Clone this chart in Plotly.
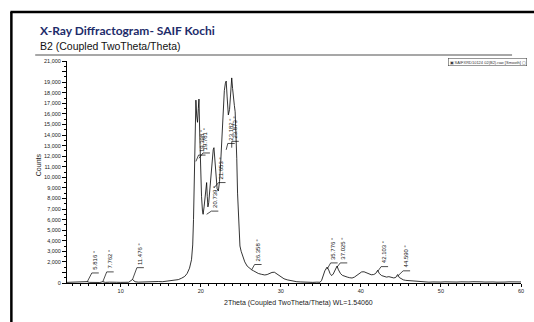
import plotly.graph_objects as go

# Smoothed diffractogram of sample B2 (2theta in degrees, intensity in counts)
two_theta = [
    3.3, 4.0, 4.5, 5.0, 5.5, 5.816, 6.1, 6.6, 7.0, 7.4, 7.762, 8.1, 8.6, 9.0, 9.5,
    10.0, 10.5, 11.0, 11.476, 11.8, 12.2, 12.7, 13.2, 13.7, 14.2, 14.7, 15.2, 15.7,
    16.2, 16.7, 17.2, 17.6, 18.0, 18.3, 18.6, 18.85, 19.0, 19.1, 19.2, 19.3, 19.398,
    19.5, 19.6, 19.7, 19.781, 19.88, 19.98, 20.1, 20.22, 20.3, 20.42, 20.55, 20.65,
    20.739, 20.82, 20.9, 21.0, 21.15, 21.3, 21.45, 21.56, 21.653, 21.75, 21.85, 21.95,
    22.05, 22.2, 22.35, 22.5, 22.65, 22.8, 22.95, 23.08, 23.182, 23.3, 23.45, 23.6,
    23.75, 23.873, 23.98, 24.1, 24.2, 24.3, 24.4, 24.5, 24.6, 24.7, 24.8, 24.9, 25.05,
    25.25, 25.5, 25.8, 26.0, 26.2, 26.358, 26.6, 26.9, 27.2, 27.6, 28.0, 28.3, 28.6,
    28.9, 29.2, 29.5, 29.8, 30.1, 30.4, 30.8, 31.2, 31.6, 32.0, 32.5, 33.0, 33.5, 34.0,
    34.5, 34.9, 35.1, 35.3, 35.5, 35.776, 35.95, 36.15, 36.35, 36.55, 36.8, 37.025,
    37.2, 37.45, 37.7, 38.0, 38.3, 38.6, 38.9, 39.2, 39.5, 39.8, 40.1, 40.4, 40.7, 41.0,
    41.3, 41.6, 41.85, 42.103, 42.3, 42.6, 42.9, 43.2, 43.5, 43.8, 44.1, 44.35, 44.59,
    44.8, 45.0, 45.3, 45.6, 46.0, 46.4, 46.8, 47.2, 47.6, 48.0, 48.5, 49.0, 49.5, 50.0,
    50.5, 51.0, 51.5, 52.0, 52.5, 53.0, 53.5, 54.0, 54.5, 55.0, 55.5, 56.0, 56.5, 57.0,
    57.5, 58.0, 58.5, 59.0, 59.5, 60.0,
]
counts = [
    60, 80, 50, 70, 60, 130, 60, 40, 70, 50, 120, 60, 80, 50, 70,
    60, 90, 70, 330, 120, 80, 100, 70, 110, 90, 140, 120, 170,
    190, 240, 320, 450, 620, 900, 1400, 2200, 3600, 6000, 9500, 14000, 17300,
    15800, 15200, 16500, 17400, 14000, 10500, 8200, 6800, 6500, 7200, 8300, 9200,
    9500, 8200, 7200, 7600, 9000, 10800, 12100, 12600, 12800, 11800, 10300, 9300,
    8900, 8700, 9600, 11500, 14000, 16500, 18200, 18900, 19100, 17600, 15900, 16400,
    18500, 19400, 18400, 17200, 16800, 16200, 14600, 11800, 8500, 6100, 4400, 3500, 3000,
    2500, 2000, 1600, 1450, 1300, 1250, 1150, 1000, 900, 820, 760, 800, 900,
    1000, 1020, 880, 700, 520, 400, 300, 220, 170, 120, 100, 70, 90, 60,
    80, 70, 250, 700, 1150, 1500, 1300, 900, 700, 850, 1300, 1600,
    1250, 900, 720, 620, 560, 500, 470, 560, 720, 900, 1050, 1060, 950, 860,
    780, 800, 900, 1200, 900, 700, 620, 560, 600, 520, 480, 520, 800,
    520, 400, 300, 250, 220, 170, 150, 110, 90, 120, 80, 100, 70, 90,
    110, 80, 120, 90, 110, 70, 100, 120, 80, 110, 90, 130, 100, 80,
    120, 90, 110, 90, 120, 100,
]

# Peak search results (2theta, degrees)
peak_2theta = [5.816, 7.762, 11.476, 19.398, 19.781, 20.739, 21.653,
               23.182, 23.873, 26.358, 35.776, 37.025, 42.103, 44.590]

# Leader/label placement for each peak: start of leader (counts),
# label level (counts) and label centre (2theta)
leader_from = [100, 100, 320, 11500, 11800, 6500, 9000,
               12600, 12800, 1250, 1300, 1500, 1100, 650]
label_level = [950, 1050, 1450, 12100, 12300, 6800, 9500,
               13200, 13400, 1750, 1900, 1900, 1550, 1150]
label_x = [6.77, 8.63, 12.4, 20.1, 20.65, 21.7, 22.6,
           23.75, 24.25, 27.1, 36.6, 37.8, 42.9, 45.65]

y_ticks = list(range(0, 22000, 1000))
y_ticktext = ["" if v in (1000, 20000) else f"{v:,}" for v in y_ticks]
x_ticks = [10, 20, 30, 40, 50, 60]

W, H = 534, 322
L, R, T, B = 67, 524, 61, 283


def px(x):
    return (x - L) / (R - L)


def py(y):
    return (B - y) / (B - T)


AX_FONT = "Liberation Sans, Arial, sans-serif"

fig = go.Figure(go.Scatter(
    x=two_theta, y=counts, mode="lines",
    line=dict(color="black", width=0.8), hoverinfo="skip", showlegend=False,
))

# Peak labels with leader lines
for p, y0, y1, tx, in zip(peak_2theta, leader_from, label_level, label_x):
    bl, br = tx - 0.37, tx + 0.5
    fig.add_shape(type="line", x0=p, y0=y0, x1=bl, y1=y1,
                  line=dict(color="black", width=0.7))
    fig.add_shape(type="line", x0=bl, y0=y1, x1=br, y1=y1,
                  line=dict(color="black", width=0.7))
    fig.add_annotation(x=tx, y=y1, text=f"{p:.3f} °", textangle=-90,
                       showarrow=False, xanchor="center", yanchor="bottom",
                       yshift=1, font=dict(size=6, family=AX_FONT, color="#111"))

# Frame, separator and legend
fig.add_shape(type="line", xref="paper", yref="paper", x0=px(11), y0=py(12),
              x1=px(11), y1=py(330), line=dict(color="black", width=2.5))
fig.add_shape(type="line", xref="paper", yref="paper", x0=px(10), y0=py(12),
              x1=px(540), y1=py(12), line=dict(color="black", width=2.5))
fig.add_shape(type="line", xref="paper", yref="paper", x0=px(35), y0=py(55),
              x1=px(515), y1=py(55), line=dict(color="#8a8a8a", width=1.5))

fig.add_annotation(xref="paper", yref="paper", x=px(490), y=py(62),
                   text="▣ SAIFXRD10124 02(B2).raw [Smooth] ▢", showarrow=False,
                   xanchor="center", yanchor="middle", bordercolor="#333",
                   borderwidth=0.5, borderpad=1,
                   font=dict(size=4, family=AX_FONT, color="#333"))

fig.add_annotation(xref="paper", yref="paper", x=px(38), y=py(30),
                   text="<b>X-Ray Diffractogram- SAIF Kochi</b>", showarrow=False,
                   xanchor="left", yanchor="middle",
                   font=dict(size=12, family="Lato, sans-serif", color="#1e2c6a"))
fig.add_annotation(xref="paper", yref="paper", x=px(38), y=py(46),
                   text="B2 (Coupled TwoTheta/Theta)", showarrow=False,
                   xanchor="left", yanchor="middle",
                   font=dict(size=10.5, family=AX_FONT, color="#111"))

fig.add_annotation(xref="paper", yref="paper", x=px(38), y=py(165),
                   text="Counts", textangle=-90, showarrow=False,
                   xanchor="center", yanchor="middle",
                   font=dict(size=7, family=AX_FONT, color="#222"))
fig.add_annotation(xref="paper", yref="paper", x=px(300), y=py(303),
                   text="2Theta (Coupled TwoTheta/Theta) WL=1.54060", showarrow=False,
                   xanchor="center", yanchor="middle",
                   font=dict(size=7, family=AX_FONT, color="#222"))

fig.update_xaxes(
    range=[3.3, 60], tickvals=x_ticks, ticks="outside", ticklen=3, tickwidth=0.8,
    tickcolor="black", showline=True, linecolor="black", linewidth=1,
    showgrid=False, zeroline=False, ticklabelstandoff=-1,
    minor=dict(dtick=1, tick0=0, ticks="outside", ticklen=2, tickcolor="black",
               tickwidth=0.6, showgrid=False),
    tickfont=dict(size=5.5, family=AX_FONT, color="#222"),
)
fig.update_yaxes(
    range=[0, 21000], tickvals=y_ticks, ticktext=y_ticktext, ticks="outside",
    ticklen=4, tickwidth=0.8, tickcolor="black", showline=True, linecolor="black",
    linewidth=1, showgrid=False, zeroline=False,
    minor=dict(dtick=500, tick0=0, ticks="outside", ticklen=2, tickcolor="black",
               tickwidth=0.6, showgrid=False),
    tickfont=dict(size=5.5, family=AX_FONT, color="#222"),
)

fig.update_layout(
    width=W, height=H, autosize=False,
    margin=dict(l=L, r=W - R, t=T, b=H - B, pad=0),
    paper_bgcolor="white", plot_bgcolor="white",
)

fig.write_html("out.html")
